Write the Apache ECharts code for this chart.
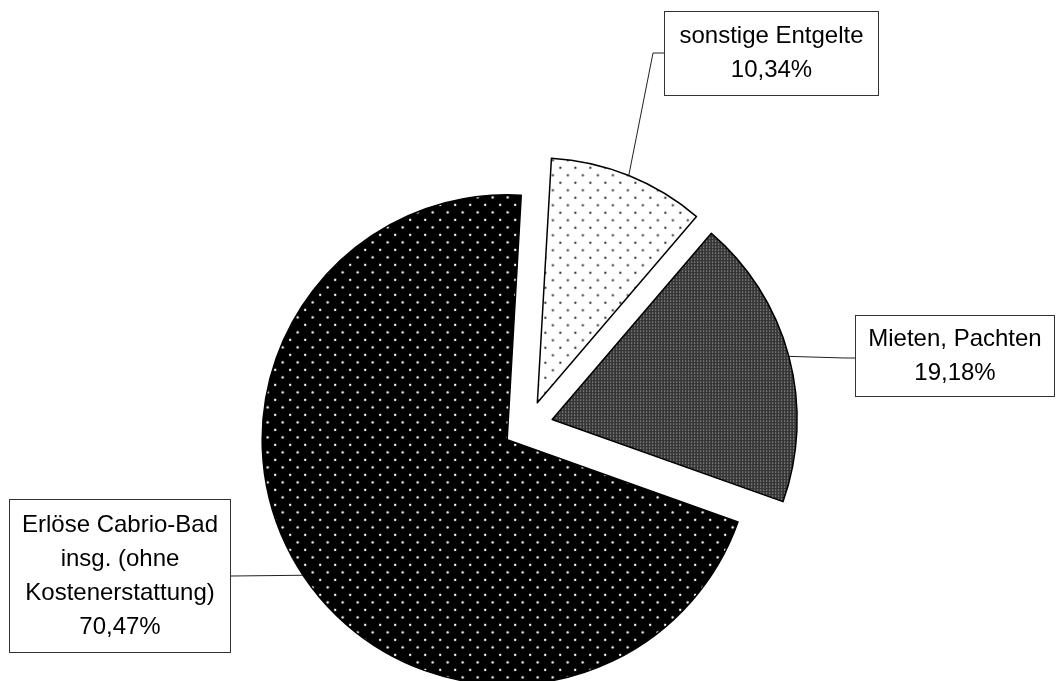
<!DOCTYPE html>
<html><head><meta charset="utf-8">
<script src="https://cdn.jsdelivr.net/npm/echarts@6/dist/echarts.min.js"></script>
<style>html,body{margin:0;padding:0;background:#fff}#c{width:1057px;height:681px}</style>
</head><body><div id="c"></div>
<script>
// ---- data ----
const categories = ['sonstige Entgelte', 'Mieten, Pachten', 'Erlöse Cabrio-Bad\ninsg. (ohne\nKostenerstattung)'];
const values = [10.34, 19.18, 70.47];

// ---- layout (pixels) ----
const boxes = [
  {cx: 771.5, top: 12, w: 213, h: 83, lines: 2, bend: [653, 53], end: [665, 53]},
  {cx: 955, top: 316, w: 198, h: 80, lines: 2, bend: [845, 358], end: [856, 358]},
  {cx: 120, top: 500, w: 220, h: 152, lines: 4, bend: [232, 576], end: [230, 576]}
];
const LH = 34;
const OFFSET = 25;

function pattern(w, h, bg, dotColor, dots, r) {
  const c = document.createElement('canvas');
  c.width = w; c.height = h;
  const ctx = c.getContext('2d');
  ctx.fillStyle = bg; ctx.fillRect(0, 0, w, h);
  ctx.fillStyle = dotColor;
  dots.forEach(function (d) {
    if (r <= 0.6) { ctx.fillRect(d[0], d[1], 1, 1); }
    else { ctx.beginPath(); ctx.arc(d[0], d[1], r, 0, Math.PI * 2); ctx.fill(); }
  });
  return {image: c, repeat: 'repeat'};
}
const fills = [
  pattern(15, 15, '#ffffff', '#333333', [[3.5, 3.5], [11, 11]], 1.15),
  pattern(3, 3, '#363636', '#c0c0c0', [[1, 1]], 0.5),
  pattern(15, 15, '#000000', '#ffffff', [[3.5, 3.5], [11, 11]], 1.2)
];

const data = categories.map(function (name, i) {
  return {
    name: name,
    value: values[i],
    selected: true,
    itemStyle: {color: fills[i], borderColor: '#000', borderWidth: 1.5}
  };
});

const chart = echarts.init(document.getElementById('c'), null, {renderer: 'canvas'});
chart.setOption({
  animation: false,
  backgroundColor: '#fff',
  series: [{
    type: 'pie',
    center: [528, 426],
    radius: 245,
    startAngle: 86.7,
    clockwise: true,
    selectedMode: 'multiple',
    selectedOffset: OFFSET,
    avoidLabelOverlap: false,
    silent: true,
    data: data,
    emphasis: {scale: false},
    select: {itemStyle: {borderColor: '#000', borderWidth: 1.5}},
    label: {show: false},
    labelLine: {show: false}
  }]
});

// labels and leader lines placed from the pie's own computed layout
const sd = chart.getModel().getSeriesByIndex(0).getData();
const graphics = [];
categories.forEach(function (name, i) {
  const L = sd.getItemLayout(i);
  const mid = (L.startAngle + L.endAngle) / 2;
  const rr = (Array.isArray(L.r) ? L.r[1] : L.r) + OFFSET;
  const px = L.cx + Math.cos(mid) * rr;
  const py = L.cy + Math.sin(mid) * rr;
  const b = boxes[i];
  graphics.push({
    type: 'polyline', z: 50, silent: true,
    shape: {points: [[px, py], b.bend, b.end]},
    style: {stroke: '#222', lineWidth: 1, fill: null}
  });
  graphics.push({
    type: 'text', z: 60, silent: true,
    x: b.cx, y: b.top,
    style: {
      text: name + '\n' + values[i].toFixed(2).replace('.', ',') + '%',
      font: '24px "Liberation Sans", Arial, sans-serif',
      fill: '#000',
      align: 'center',
      verticalAlign: 'top',
      lineHeight: LH,
      width: b.w,
      backgroundColor: '#fff',
      borderColor: '#333',
      borderWidth: 1,
      padding: [(b.h - b.lines * LH) / 2, 0]
    }
  });
});
chart.setOption({graphic: graphics});
</script>
</body></html>
